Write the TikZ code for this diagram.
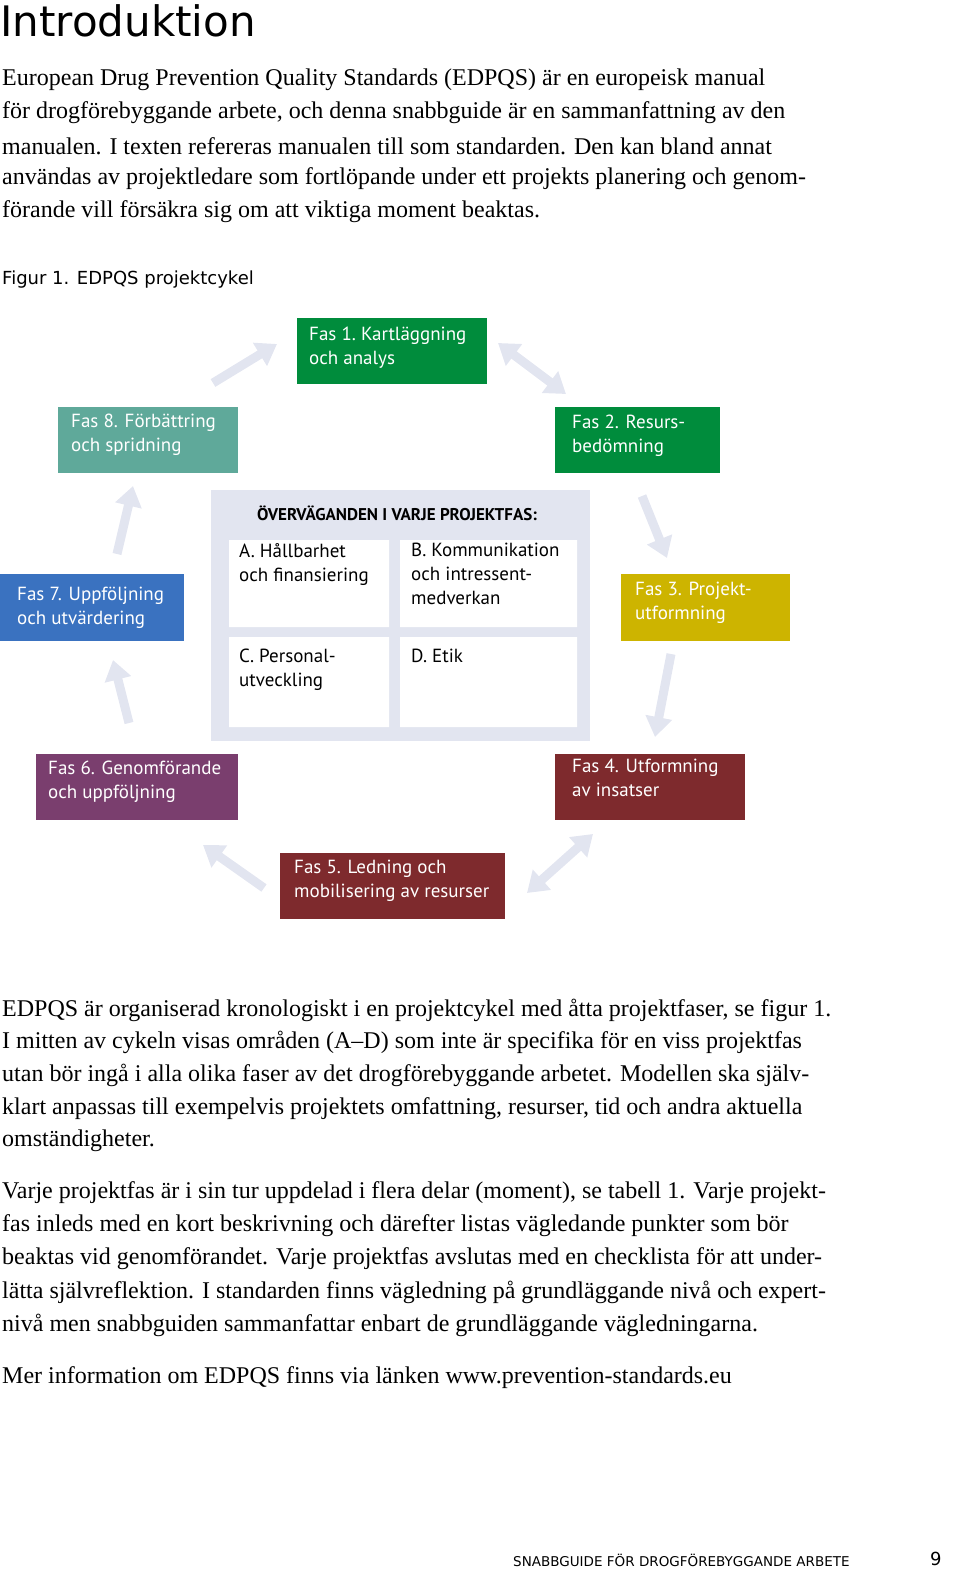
\documentclass[tikz,border=0pt]{standalone}
\usepackage{fontspec}
\setmainfont{Liberation Serif}
\newfontfamily\hd{DejaVu Sans}
\newfontfamily\dgb{PT Sans}
\usetikzlibrary{arrows.meta}
\definecolor{gA}{RGB}{0,140,60}
\definecolor{yA}{RGB}{205,180,0}
\definecolor{rA}{RGB}{126,42,45}
\definecolor{pA}{RGB}{122,62,110}
\definecolor{bA}{RGB}{58,114,192}
\definecolor{tA}{RGB}{95,169,154}
\definecolor{lA}{RGB}{226,229,240}
\begin{document}
\begin{tikzpicture}[x=1pt,y=-1pt,
  body/.style={anchor=west,inner sep=0,font=\fontsize{24}{28}\selectfont},
  fas/.style={anchor=north west,inner sep=0,align=left,text=white,font=\dgb\fontsize{19}{24}\selectfont},
  cell/.style={anchor=north west,inner sep=0,align=left,text=black,font=\dgb\fontsize{19}{24}\selectfont},
  arr/.style={draw=lA,line width=9pt,-{Triangle[width=26pt,length=20pt]}},
  darr/.style={draw=lA,line width=9pt,{Triangle[width=26pt,length=20pt]}-{Triangle[width=26pt,length=20pt]}}]
\useasboundingbox (0,0) rectangle (960,1595);
\node[anchor=west,inner sep=0,font=\hd\fontsize{42}{46}\selectfont] (title) at (0,21) {Introduktion};
\foreach \t [count=\i] in {European Drug Prevention Quality Standards (EDPQS) är en europeisk manual,
för drogförebyggande arbete{,} och denna snabbguide är en sammanfattning av den,
manualen. I texten refereras manualen till som standarden. Den kan bland annat,
användas av projektledare som fortlöpande under ett projekts planering och genom-,
förande vill försäkra sig om att viktiga moment beaktas.}
  \node[body] (b\i) at (2,{80+33*(\i-1)}) {\t};
\node[anchor=west,inner sep=0,font=\hd\fontsize{18}{22}\selectfont] (cap) at (2,280) {Figur 1. EDPQS projektcykel};
% center
\fill[lA] (211,490) rectangle (590,741);
\node[anchor=center,inner sep=0,font=\dgb\bfseries\fontsize{17}{20}\selectfont] (head) at (397,513) {ÖVERVÄGANDEN I VARJE PROJEKTFAS:};
\fill[white] (229,540) rectangle (389,627) (400,540) rectangle (577,627) (229,637) rectangle (389,727) (400,637) rectangle (577,727);
\node[cell] (A) at (239,543) {A. Hållbarhet\\och finansiering};
\node[cell] (B) at (411,543) {B. Kommunikation\\och intressent-\\medverkan};
\node[cell] (C) at (239,649) {C. Personal-\\utveckling};
\node[cell] (D) at (411,649) {D. Etik};
% boxes
\fill[gA] (297,318) rectangle (487,384);
\node[fas] (f1) at (309,327) {Fas 1.\ Kartläggning\\och analys};
\fill[gA] (555,407) rectangle (720,473);
\node[fas] (f2) at (572,415) {Fas 2. Resurs-\\bedömning};
\fill[yA] (621,574) rectangle (790,641);
\node[fas] (f3) at (635,582) {Fas 3. Projekt-\\utformning};
\fill[rA] (555,754) rectangle (745,820);
\node[fas] (f4) at (572,759) {Fas 4. Utformning\\av insatser};
\fill[rA] (280,853) rectangle (505,919);
\node[fas] (f5) at (294,860) {Fas 5. Ledning och\\mobilisering av resurser};
\fill[pA] (36,754) rectangle (238,820);
\node[fas] (f6) at (48,761) {Fas 6. Genomförande\\och uppföljning};
\fill[bA] (0,574) rectangle (184,641);
\node[fas] (f7) at (17,587) {Fas 7. Uppföljning\\och utvärdering};
\fill[tA] (58,407) rectangle (238,473);
\node[fas] (f8) at (71,414) {Fas 8. Förbättring\\och spridning};
% arrows
\coordinate (a1s) at (213,383); \coordinate (a1e) at (277,344);
\coordinate (a2s) at (498,343); \coordinate (a2e) at (566,394);
\coordinate (a3s) at (642,496); \coordinate (a3e) at (667,558);
\coordinate (a4s) at (671,654); \coordinate (a4e) at (655,737);
\coordinate (a5s) at (593,834); \coordinate (a5e) at (527,893);
\coordinate (a6s) at (264,888); \coordinate (a6e) at (203,845);
\coordinate (a7s) at (129,723); \coordinate (a7e) at (113,660);
\coordinate (a8s) at (117,554); \coordinate (a8e) at (133,486);
\draw[arr] (a1s) -- (a1e);
\draw[darr] (a2s) -- (a2e);
\draw[arr] (a3s) -- (a3e);
\draw[arr] (a4s) -- (a4e);
\draw[darr] (a5s) -- (a5e);
\draw[arr] (a6s) -- (a6e);
\draw[arr] (a7s) -- (a7e);
\draw[arr] (a8s) -- (a8e);
\foreach \t [count=\i] in {EDPQS är organiserad kronologiskt i en projektcykel med åtta projektfaser{,} se figur 1.,
I mitten av cykeln visas områden (A–D) som inte är specifika för en viss projektfas,
utan bör ingå i alla olika faser av det drogförebyggande arbetet. Modellen ska själv-,
klart anpassas till exempelvis projektets omfattning{,} resurser{,} tid och andra aktuella,
omständigheter.}
  \node[body] (c\i) at (2,{1010+32.8*(\i-1)}) {\t};
\foreach \t [count=\i] in {Varje projektfas är i sin tur uppdelad i flera delar (moment){,} se tabell 1. Varje projekt-,
fas inleds med en kort beskrivning och därefter listas vägledande punkter som bör,
beaktas vid genomförandet. Varje projektfas avslutas med en checklista för att under-,
lätta självreflektion. I standarden finns vägledning på grundläggande nivå och expert-,
nivå men snabbguiden sammanfattar enbart de grundläggande vägledningarna.}
  \node[body] (d\i) at (2,{1193+33*(\i-1)}) {\t};
\node[body] (e1) at (2,1378) {Mer information om EDPQS finns via länken www.prevention-standards.eu};
\node[anchor=west,inner sep=0,font=\hd\fontsize{13.5}{16}\selectfont] (foot) at (513,1560) {SNABBGUIDE FÖR DROGFÖREBYGGANDE ARBETE};
\node[anchor=west,inner sep=0,font=\hd\fontsize{18}{20}\selectfont] (pg) at (930,1559) {9};
\end{tikzpicture}
\end{document}
